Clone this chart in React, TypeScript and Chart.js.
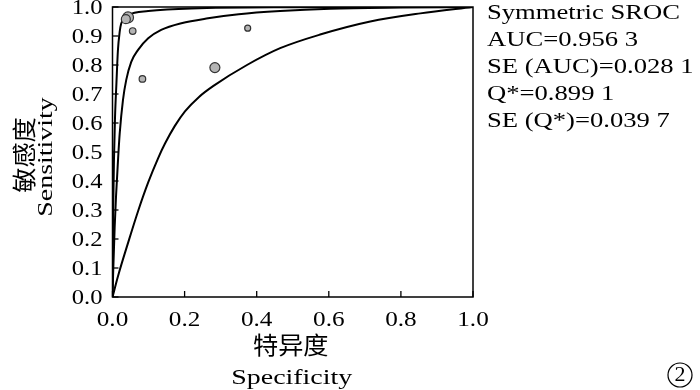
import React, { useEffect, useRef } from "react";
import { Chart, registerables } from "chart.js";

Chart.register(...registerables);

// Study points (1 - specificity, sensitivity) and relative weights
const pointsX = [0.043, 0.037, 0.056, 0.083, 0.284, 0.375];
const pointsY = [0.964, 0.958, 0.917, 0.752, 0.791, 0.927];
const studyWeights = [5.5, 4.5, 3.3, 3.3, 5, 3];

// SROC curve (middle)
const srocX = [0, 0.002, 0.006, 0.0097, 0.0153, 0.02, 0.029, 0.038, 0.052, 0.071, 0.099, 0.135, 0.191, 0.265, 0.35, 0.465, 0.604, 0.8, 1];
const srocY = [0, 0.09, 0.24, 0.345, 0.472, 0.564, 0.679, 0.748, 0.811, 0.852, 0.892, 0.921, 0.944, 0.961, 0.975, 0.986, 0.994, 0.998, 1];

// Upper bound curve
const upperX = [0, 0.001, 0.002, 0.004, 0.007, 0.011, 0.015, 0.02, 0.024, 0.043, 0.099, 0.219, 0.5, 1];
const upperY = [0, 0.15, 0.3, 0.47, 0.62, 0.74, 0.85, 0.915, 0.942, 0.972, 0.986, 0.995, 0.999, 1];

// Lower bound curve
const lowerX = [0, 0.016, 0.044, 0.072, 0.099, 0.127, 0.146, 0.173, 0.201, 0.24, 0.28, 0.373, 0.465, 0.576, 0.715, 0.854, 1];
const lowerY = [0, 0.075, 0.19, 0.3, 0.395, 0.48, 0.53, 0.59, 0.64, 0.69, 0.728, 0.8, 0.858, 0.905, 0.95, 0.978, 1];

const xTickValues = [0, 0.2, 0.4, 0.6, 0.8, 1.0];
const xTickLabels = ["0.0", "0.2", "0.4", "0.6", "0.8", "1.0"];
const yTickValues = [0, 0.1, 0.2, 0.3, 0.4, 0.5, 0.6, 0.7, 0.8, 0.9, 1.0];
const yTickLabels = ["0.0", "0.1", "0.2", "0.3", "0.4", "0.5", "0.6", "0.7", "0.8", "0.9", "1.0"];

const xTitleCn = "特异度";
const xTitleEn = "Specificity";
const yTitleCn = "敏感度";
const yTitleEn = "Sensitivity";

const statLines = [
  "Symmetric SROC",
  "AUC=0.956 3",
  "SE (AUC)=0.028 1",
  "Q*=0.899 1",
  "SE (Q*)=0.039 7",
];
const figureNumber = "2";

const SERIF = "'Liberation Serif', 'Times New Roman', serif";
const CJK = "'Noto Sans CJK SC', sans-serif";

function zip(xs: number[], ys: number[]) {
  return xs.map((x, i) => ({ x, y: ys[i] }));
}

function drawStretched(
  ctx: CanvasRenderingContext2D,
  text: string,
  x: number,
  y: number,
  font: string,
  align: CanvasTextAlign,
  baseline: CanvasTextBaseline,
  sx: number,
  rotate = 0
) {
  ctx.save();
  ctx.translate(x, y);
  if (rotate) ctx.rotate(rotate);
  ctx.scale(sx, 1);
  ctx.font = font;
  ctx.textAlign = align;
  ctx.textBaseline = baseline;
  ctx.fillStyle = "#000";
  ctx.fillText(text, 0, 0);
  ctx.restore();
}

const decorPlugin = {
  id: "decor",
  afterDraw(chart: any) {
    const ctx: CanvasRenderingContext2D = chart.ctx;
    const { left, right, top, bottom } = chart.chartArea;
    const xs = chart.scales.x;
    const ys = chart.scales.y;
    ctx.save();
    ctx.strokeStyle = "#000";
    ctx.lineWidth = 1.5;
    ctx.strokeRect(left, top, right - left, bottom - top);
    // inside ticks
    ctx.lineWidth = 1.3;
    xTickValues.forEach((v) => {
      const px = xs.getPixelForValue(v);
      ctx.beginPath();
      ctx.moveTo(px, bottom);
      ctx.lineTo(px, bottom - 6);
      ctx.stroke();
    });
    yTickValues.forEach((v) => {
      const py = ys.getPixelForValue(v);
      ctx.beginPath();
      ctx.moveTo(left, py);
      ctx.lineTo(left + 6, py);
      ctx.stroke();
    });
    // tick labels
    xTickValues.forEach((v, i) => {
      const px = xs.getPixelForValue(v);
      drawStretched(ctx, xTickLabels[i], px, bottom + 23, `21px ${SERIF}`, "center", "middle", 1.2);
    });
    yTickValues.forEach((v, i) => {
      const py = ys.getPixelForValue(v);
      drawStretched(ctx, yTickLabels[i], left - 10, py + 1, `21px ${SERIF}`, "right", "middle", 1.17);
    });
    // axis titles
    drawStretched(ctx, xTitleCn, (left + right) / 2 - 2, 345, `24px ${CJK}`, "center", "middle", 1.05);
    drawStretched(ctx, xTitleEn, (left + right) / 2 - 1, 384, `22px ${SERIF}`, "center", "alphabetic", 1.27);
    drawStretched(ctx, yTitleCn, 24, 155, `24px ${CJK}`, "center", "middle", 1.05, -Math.PI / 2);
    drawStretched(ctx, yTitleEn, 52, 157, `22px ${SERIF}`, "center", "alphabetic", 1.27, -Math.PI / 2);
    // stats text
    statLines.forEach((t, i) => {
      drawStretched(ctx, t, 487, 13 + i * 27, `22px ${SERIF}`, "left", "middle", 1.21);
    });
    // circled figure number
    ctx.beginPath();
    ctx.lineWidth = 1.2;
    ctx.arc(680, 375, 12, 0, Math.PI * 2);
    ctx.stroke();
    drawStretched(ctx, figureNumber, 680, 376, `20px ${SERIF}`, "center", "middle", 1.1);
    ctx.restore();
  },
};

export default function App() {
  const ref = useRef<HTMLCanvasElement | null>(null);
  useEffect(() => {
    if (!ref.current) return;
    const curveStyle = {
      showLine: true,
      borderColor: "#000",
      borderWidth: 2,
      pointRadius: 0,
      fill: false,
      cubicInterpolationMode: "monotone" as const,
    };
    const chart = new Chart(ref.current, {
      type: "scatter",
      data: {
        datasets: [
          {
            label: "Studies",
            data: zip(pointsX, pointsY),
            pointRadius: studyWeights,
            backgroundColor: "#b4b4b4",
            borderColor: "#333",
            borderWidth: 1.2,
            order: 0,
          },
          { label: "SROC", data: zip(srocX, srocY), ...curveStyle, order: 1 },
          { label: "Upper", data: zip(upperX, upperY), ...curveStyle, order: 1 },
          { label: "Lower", data: zip(lowerX, lowerY), ...curveStyle, order: 1 },
        ],
      },
      options: {
        animation: false,
        responsive: true,
        maintainAspectRatio: false,
        layout: { padding: { left: 0, top: 7, right: 227, bottom: 0 } },
        plugins: { legend: { display: false }, tooltip: { enabled: false } },
        scales: {
          x: {
            type: "linear",
            min: 0,
            max: 1,
            grid: { display: false },
            border: { display: false },
            ticks: { display: false },
            afterFit: (s: any) => {
              s.height = 93;
            },
          },
          y: {
            type: "linear",
            min: 0,
            max: 1,
            grid: { display: false },
            border: { display: false },
            ticks: { display: false },
            afterFit: (s: any) => {
              s.width = 112.5;
            },
          },
        },
      },
      plugins: [decorPlugin],
    } as any);
    return () => chart.destroy();
  }, []);
  return (
    <div style={{ position: "fixed", left: 0, top: 0, width: 700, height: 390, background: "#fff" }}>
      <canvas ref={ref} />
    </div>
  );
}
